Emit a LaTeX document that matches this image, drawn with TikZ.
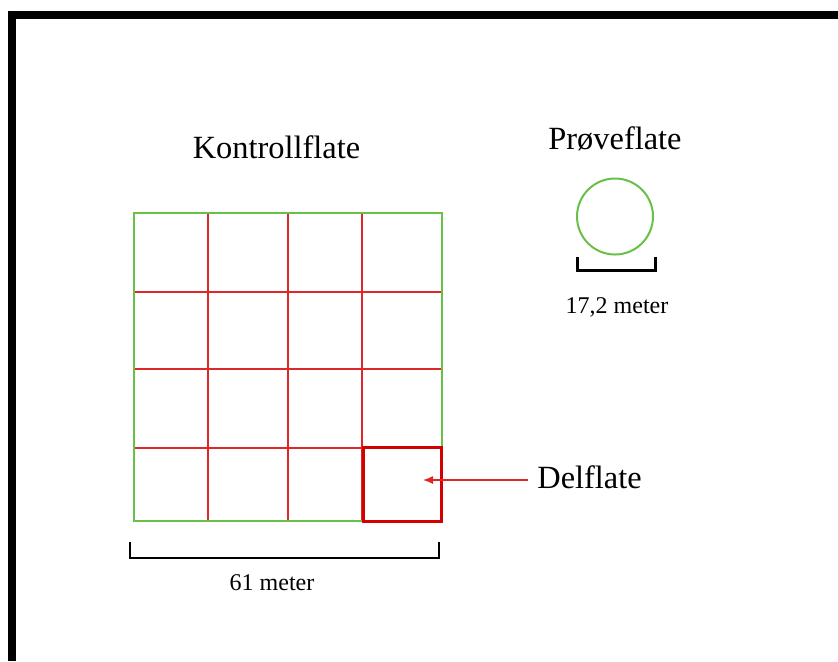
\documentclass[tikz,border=0pt]{standalone}
\usepackage{fontspec}
\setmainfont{Liberation Serif}
\usetikzlibrary{arrows.meta}
\definecolor{gframe}{RGB}{104,192,72}
\definecolor{gridred}{RGB}{222,40,40}
\definecolor{boxred}{RGB}{210,0,0}
\tikzset{
  big/.style={font=\fontsize{16.2}{19}\selectfont, inner sep=0pt},
  small/.style={font=\fontsize{12}{14}\selectfont, inner sep=0pt},
  frameline/.style={line width=4pt, black},
  gridline/.style={gridred, line width=0.7pt},
  bracket/.style={black, line width=1.1pt},
}
\begin{document}
\begin{tikzpicture}[x=0.5pt,y=-0.5pt]
\useasboundingbox (0,0) rectangle (838,661);
% outer frame (top and left)
\draw[frameline] (8,14.5) -- (838,14.5);
\draw[frameline] (12,10.5) -- (12,661);
% red grid
\foreach \x in {208,288,362} \draw[gridline] (\x,213) -- (\x,521);
\foreach \y in {292,369,448} \draw[gridline] (134,\y) -- (442,\y);
% green square
\draw[gframe, line width=1.4pt] (134,213) rectangle (442,521);
% highlighted sub-square
\draw[boxred, line width=1.5pt] (363.5,447) rectangle (441.5,521);
% titles
\node[big, anchor=base] (ktitle) at (276.5,158) {Kontrollflate};
\node[big, anchor=base] (ptitle) at (615,149) {Prøveflate};
% circle
\draw[gframe, line width=1pt] (615,216.5) circle[radius=38];
% bracket under circle
\draw[bracket] (577.5,257) -- (577.5,270.5) -- (655.5,270.5) -- (655.5,257);
\node[small, anchor=base] (plen) at (617,313) {17,2 meter};
% bracket under square
\draw[bracket] (130,542) -- (130,558) -- (439,558) -- (439,542);
\node[small, anchor=base] (klen) at (272,590.5) {61 meter};
% Delflate label and arrow
\node[big, anchor=base west] (delf) at (537,488) {Delflate};
\coordinate (tip) at (423,480);
\draw[gridred, line width=0.6pt, -{Latex[length=5pt,width=4pt]}] ([xshift=-4.5pt]delf.west |- tip) -- (tip);
\end{tikzpicture}
\end{document}
